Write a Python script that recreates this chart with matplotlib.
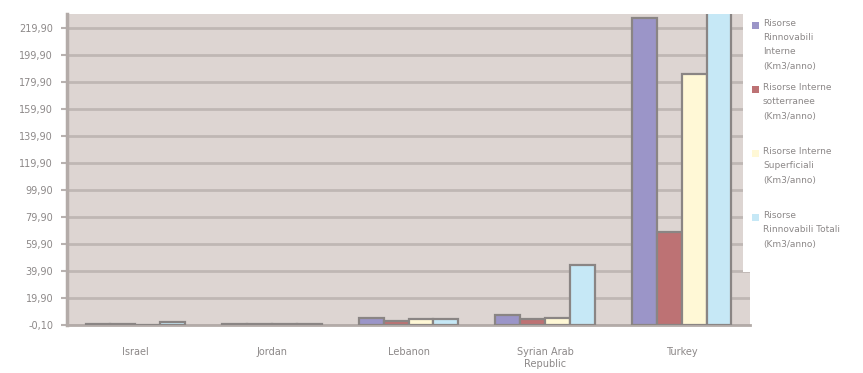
import numpy as np
import matplotlib.pyplot as plt
from matplotlib.patches import Rectangle

# renewable water resources by country (km3/year)
countries = ["Israel", "Jordan", "Lebanon", "Syrian Arab\nRepublic", "Turkey"]
interne_rinnovabili = [0.75, 0.68, 4.8, 7.0, 227.0]
interne_sotterranee = [0.5, 0.5, 3.2, 4.2, 69.0]
interne_superficiali = [0.25, 0.4, 4.1, 4.8, 186.0]
totali_rinnovabili = [1.78, 0.94, 4.5, 44.0, 234.0]

series = [interne_rinnovabili, interne_sotterranee, interne_superficiali, totali_rinnovabili]
labels = ["Risorse\nRinnovabili\nInterne\n(Km3/anno)",
          "Risorse Interne\nsotterranee\n(Km3/anno)",
          "Risorse Interne\nSuperficiali\n(Km3/anno)",
          "Risorse\nRinnovabili Totali\n(Km3/anno)"]
colors = ["#9b95c8", "#bd7274", "#fff8d6", "#c6e8f6"]
yticks = np.arange(-0.1, 230, 20)

fig = plt.figure(figsize=(8.63, 3.73), dpi=100)
ax = fig.add_axes([67 / 863, 1 - 325 / 373, 683 / 863, 311 / 373])
ax.set_facecolor("#ddd5d2")

x = np.arange(len(countries))
w = 1 / 5.5
for i, vals in enumerate(series):
    ax.bar(x - 1.5 * w + i * w, vals, width=w, color=colors[i],
           edgecolor="#8a8584", linewidth=1.6, zorder=3)

ax.set_xlim(-0.5, len(countries) - 0.5)
ax.set_ylim(-0.1, 230.3)
ax.set_yticks(yticks)
ax.set_yticklabels([f"{v:.2f}".replace(".", ",") for v in yticks])
ax.set_xticks(x)
ax.set_xticklabels(countries)
ax.grid(axis="y", color="#bfb7b4", linewidth=2, zorder=1)

for s in ["top", "right"]:
    ax.spines[s].set_visible(False)
ax.spines["left"].set_color("#b3aba8")
ax.spines["left"].set_linewidth(2.5)
ax.spines["bottom"].set_color("#b3aba8")
ax.spines["bottom"].set_linewidth(2)
ax.tick_params(axis="y", colors="#b8b2b0", labelcolor="#8c8888", labelsize=7,
               length=4, width=1.5, pad=6)
ax.tick_params(axis="x", length=0, labelcolor="#8c8888", labelsize=7, pad=16)

# legend panel drawn over the right edge of the plot area
fig.patches.append(Rectangle((743 / 863, 1 - 272 / 373), 120 / 863, 260 / 373,
                             transform=fig.transFigure, facecolor="white",
                             edgecolor="none", zorder=5))
entry_y = [25, 89, 153, 217]
for yy, lab, c in zip(entry_y, labels, colors):
    fig.patches.append(Rectangle((752 / 863, 1 - (yy + 4) / 373), 7 / 863, 7 / 373,
                                 transform=fig.transFigure, facecolor=c,
                                 edgecolor="none", zorder=6))
    fig.text(763 / 863, 1 - (yy - 6) / 373, lab, fontsize=6.5, color="#8c8888",
             va="top", ha="left", linespacing=1.75, zorder=7)

fig.savefig("out.png", dpi=100)
